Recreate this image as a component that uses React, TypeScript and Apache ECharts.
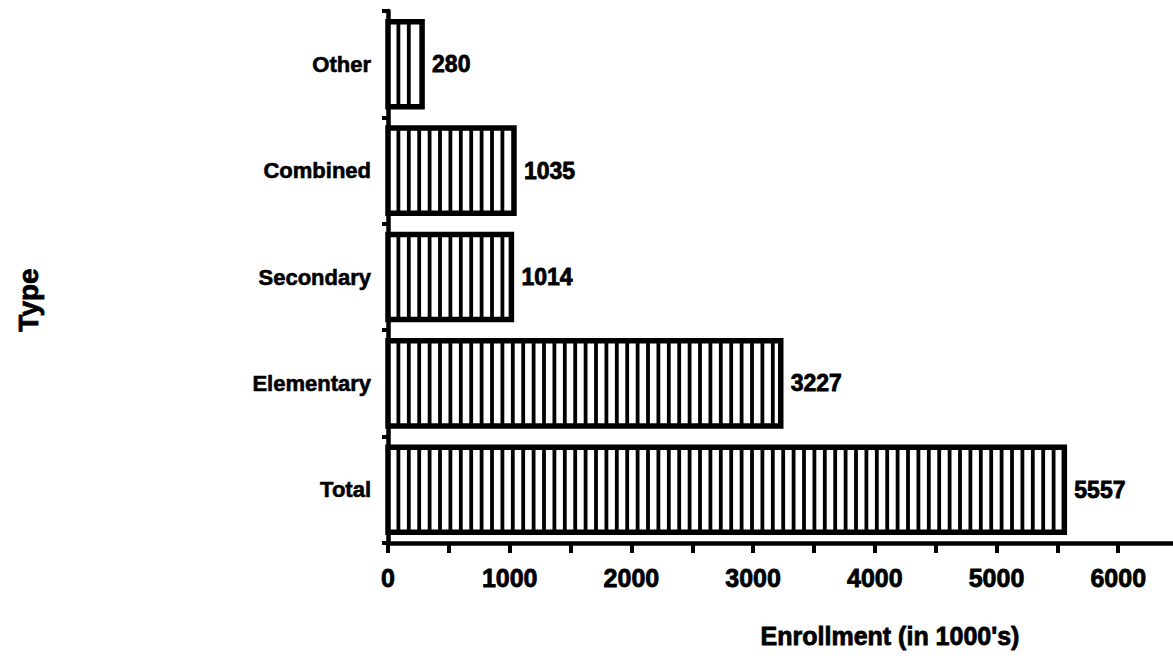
import React, { useEffect, useRef } from "react";
import * as echarts from "echarts";

// Enrollment by school type (in 1000's), bottom-to-top order on the category axis
const categories = ["Total", "Elementary", "Secondary", "Combined", "Other"];
const enrollment = [5557, 3227, 1014, 1035, 280];
const xTickValues = [0, 500, 1000, 1500, 2000, 2500, 3000, 3500, 4000, 4500, 5000, 5500, 6000];
const xLabelValues = [0, 1000, 2000, 3000, 4000, 5000, 6000];

const FONT = '"Liberation Sans", Arial, Helvetica, sans-serif';

export default function App() {
  const ref = useRef<HTMLDivElement>(null);

  useEffect(() => {
    if (!ref.current) return;
    const chart = echarts.init(ref.current, null, { renderer: "svg" });

    // Striped bar: white box with a heavy outline and vertical black bars
    const renderBar = (params: any, api: any) => {
      const cat = api.value(1);
      const val = api.value(0);
      const start = api.coord([0, cat]);
      const end = api.coord([val, cat]);
      const band = api.size([0, 1])[1];
      const h = band * 0.8;
      const top = start[1] - h / 2;
      const bottom = start[1] + h / 2;
      const children: any[] = [
        {
          type: "rect",
          shape: { x: start[0], y: top, width: end[0] - start[0], height: h },
          style: { fill: "#fff", stroke: "#000", lineWidth: 5.5 },
        },
      ];
      const period = 10.4;
      for (let x = start[0] + period; x < end[0] - 3; x += period) {
        children.push({
          type: "line",
          shape: { x1: x, y1: top, x2: x, y2: bottom },
          style: { stroke: "#000", lineWidth: 3.8 },
        });
      }
      children.push({
        type: "text",
        style: {
          text: String(val),
          x: end[0] + 10,
          y: start[1],
          align: "left",
          verticalAlign: "middle",
          textAlign: "left",
          textVerticalAlign: "middle",
          fill: "#000",
          stroke: "#000",
          lineWidth: 0.8,
          font: `bold 23px ${FONT}`,
        },
      });
      return { type: "group", children };
    };

    chart.setOption({
      animation: false,
      backgroundColor: "#fff",
      grid: { left: 388, right: 0, top: 11, bottom: 120, containLabel: false },
      xAxis: {
        type: "value",
        min: 0,
        max: 6450,
        splitLine: { show: false },
        axisLine: { show: true, lineStyle: { color: "#000", width: 4.5 } },
        axisTick: {
          show: true,
          length: 10,
          lineStyle: { color: "#000", width: 4 },
          customValues: xTickValues,
        },
        axisLabel: {
          customValues: xLabelValues,
          formatter: (v: number) => String(v),
          color: "#000",
          fontFamily: FONT,
          fontWeight: "bold",
          fontSize: 25,
          margin: 22,
          textBorderColor: "#000",
          textBorderWidth: 0.8,
        },
      },
      yAxis: {
        type: "category",
        data: categories,
        axisLine: { show: true, lineStyle: { color: "#000", width: 4.5 } },
        axisTick: { show: true, length: 6, lineStyle: { color: "#000", width: 4 } },
        axisLabel: {
          color: "#000",
          fontFamily: FONT,
          fontWeight: "bold",
          fontSize: 22,
          margin: 17,
          textBorderColor: "#000",
          textBorderWidth: 0.6,
        },
        splitLine: { show: false },
      },
      series: [
        {
          type: "custom",
          renderItem: renderBar,
          encode: { x: 0, y: 1 },
          data: enrollment.map((v, i) => [v, categories[i]]),
        },
      ],
      graphic: [
        {
          type: "text",
          x: 28,
          y: 300,
          rotation: Math.PI / 2,
          style: {
            text: "Type",
            fill: "#000",
            stroke: "#000",
            lineWidth: 0.8,
            font: `bold 28px ${FONT}`,
            align: "center",
            verticalAlign: "middle",
            textAlign: "center",
            textVerticalAlign: "middle",
          },
        },
        {
          type: "text",
          x: 890,
          y: 636,
          style: {
            text: "Enrollment (in 1000's)",
            fill: "#000",
            stroke: "#000",
            lineWidth: 0.8,
            font: `bold 25px ${FONT}`,
            align: "center",
            verticalAlign: "middle",
            textAlign: "center",
            textVerticalAlign: "middle",
          },
        },
      ],
    });

    return () => chart.dispose();
  }, []);

  return (
    <div
      ref={ref}
      style={{ position: "fixed", left: 0, top: 0, width: 1173, height: 663, background: "#fff" }}
    />
  );
}
